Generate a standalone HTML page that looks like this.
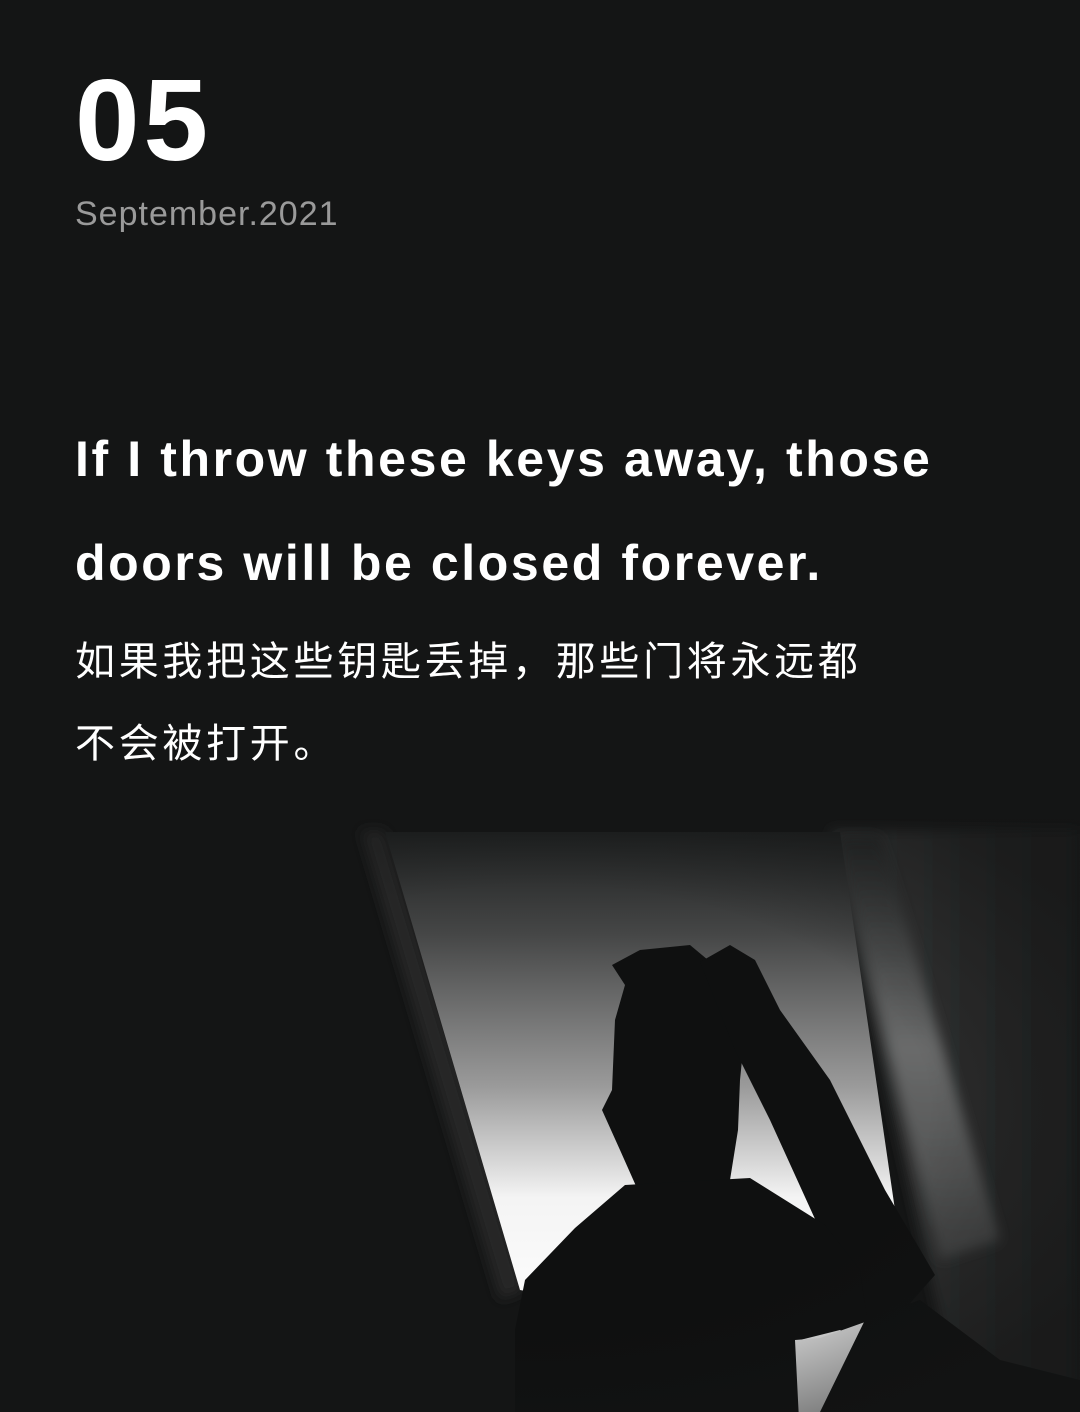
<!DOCTYPE html>
<html><head><meta charset="utf-8"><style>
html,body{margin:0;padding:0;background:#141515;}
#page{position:relative;width:1080px;height:1412px;overflow:hidden;background:#141515;font-family:"Liberation Sans","Noto Sans CJK SC",sans-serif;}
.t{position:absolute;left:75px;margin:0;white-space:nowrap;}
</style></head><body>
<div id="page">
<svg width="1080" height="1412" style="position:absolute;left:0;top:0">
<defs>
<linearGradient id="win" x1="0" y1="0" x2="0" y2="1">
<stop offset="0" stop-color="#1e2020"/><stop offset="0.2" stop-color="#454646"/><stop offset="0.5" stop-color="#9a9a9a"/><stop offset="0.72" stop-color="#f4f4f4"/><stop offset="1" stop-color="#ffffff"/></linearGradient>
<linearGradient id="cur" x1="0" y1="0" x2="0" y2="1">
<stop offset="0" stop-color="#262828"/><stop offset="0.5" stop-color="#6a6b6b"/><stop offset="1" stop-color="#444545"/></linearGradient>
<linearGradient id="wall" x1="0" y1="0" x2="1" y2="0">
<stop offset="0" stop-color="#3a3b3b"/><stop offset="1" stop-color="#1e1f1f"/></linearGradient>
<radialGradient id="fade" cx="0.5" cy="0.5" r="0.6">
<stop offset="0.6" stop-color="#141515" stop-opacity="0"/><stop offset="1" stop-color="#141515" stop-opacity="1"/></radialGradient>
<filter id="bl"><feGaussianBlur stdDeviation="6"/></filter>
</defs>
<polygon points="830,830 1080,830 1080,1412 960,1412" fill="url(#wall)" filter="url(#bl)"/>
<polygon points="835,835 880,835 1000,1240 940,1260" fill="url(#cur)" filter="url(#bl)"/>
<polygon points="360,830 385,830 525,1290 500,1300" fill="#262828" filter="url(#bl)"/>
<polygon points="385,832 840,832 895,1210 880,1340 800,1340 520,1290" fill="url(#win)"/>
<g fill="#0f1010">
<path d="M612,965 L640,950 L690,945 L720,970 L740,1000 L745,1030 L740,1080 L738,1130 L730,1180 L720,1195 L640,1195 L620,1150 L602,1110 L612,1090 L615,1020 L625,985 Z"/>
<path d="M700,962 L730,945 L755,960 L780,1010 L830,1080 L885,1190 L935,1275 L895,1320 L870,1340 L840,1330 L820,1230 L770,1120 L735,1050 Z"/>
<path d="M625,1185 L575,1228 L525,1280 L515,1330 L515,1420 L800,1420 L800,1340 L840,1330 L870,1340 L860,1270 L825,1225 L750,1178 Z"/>
</g>
<path d="M795,1340 L820,1338 L865,1322 L880,1340 L860,1380 L815,1440 L800,1440 Z" fill="#f2f2f2"/>
<path d="M865,1320 L920,1300 L1000,1360 L1080,1380 L1080,1412 L820,1412 Z" fill="#0f1010"/>
<rect x="0" y="800" width="1080" height="612" fill="url(#fade)" opacity="0.6"/>
</svg>
<p class="t" style="top:60px;font-size:116px;font-weight:bold;color:#ffffff;letter-spacing:4px;line-height:120px;">05</p>
<p class="t" style="top:192px;font-size:34px;color:#9a9a9a;letter-spacing:1px;line-height:44px;">September.2021</p>
<p class="t" style="top:426px;font-size:50px;font-weight:bold;color:#fff;letter-spacing:2.6px;line-height:66px;">If I throw these keys away, those</p>
<p class="t" style="top:530px;font-size:50px;font-weight:bold;color:#fff;letter-spacing:2.6px;line-height:66px;">doors will be closed forever.</p>
<p class="t" style="top:636px;font-size:40px;color:#fff;letter-spacing:3.7px;line-height:52px;">如果我把这些钥匙丢掉，那些门将永远都</p>
<p class="t" style="top:718px;font-size:40px;color:#fff;letter-spacing:3.7px;line-height:52px;">不会被打开。</p>
</div>
</body></html>
